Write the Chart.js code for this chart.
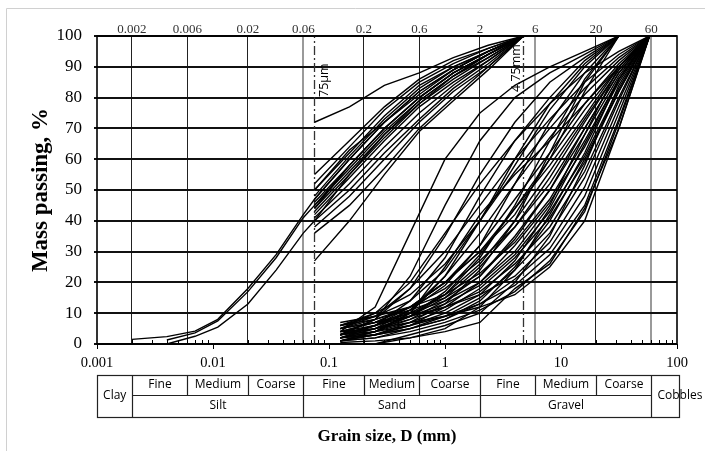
<!DOCTYPE html>
<html>
<head>
<meta charset="utf-8">
<script src="https://cdn.jsdelivr.net/npm/chart.js@4.4.1/dist/chart.umd.min.js"></script>
<style>
  html, body { margin: 0; padding: 0; background: #fff; }
  #wrap { position: relative; width: 705px; height: 451px; }
</style>
</head>
<body>
<div id="wrap"><canvas id="chart"></canvas></div>
<script>
// sieve / particle sizes in mm
const fineSieves = [0.075, 0.15, 0.3, 0.6, 1.18, 2.36, 4.75];
const hydroSizes = [0.002, 0.004, 0.007, 0.011, 0.02, 0.035, 0.06, 0.075, 0.15, 0.3, 0.6, 1.18, 2.36, 4.75];
const gravelSieves = [0.125, 0.25, 0.5, 1, 2, 4, 8, 16, 31.5, 58];

// mass passing (%) - fine grained soils (sieve from 75 µm)
const fineCurves = [
    [72, 77, 84, 88, 93, 97, 100],
    [55, 66, 77, 86, 92, 96, 100],
    [52, 64, 76, 85, 91, 96, 100],
    [50, 62, 74, 84, 90, 95, 100],
    [48, 61, 73, 83, 90, 95, 100],
    [47, 60, 72, 82, 89, 95, 100],
    [46, 58, 70, 80, 88, 94, 100],
    [45, 57, 69, 79, 87, 94, 100],
    [44, 56, 68, 78, 87, 93, 100],
    [43, 55, 67, 78, 86, 93, 100],
    [42, 54, 66, 77, 85, 92, 100],
    [41, 52, 64, 75, 84, 92, 100],
    [40, 50, 62, 73, 83, 91, 100],
    [38, 48, 60, 72, 82, 90, 100],
    [36, 45, 57, 70, 80, 90, 100],
    [27, 40, 55, 69, 79, 89, 100],
    [44, 58, 70, 80, 88, 94, 100],
    [50, 63, 72, 81, 89, 95, 100]
];

// mass passing (%) - curves with hydrometer part
const hydroCurves = [
    [1.5, 2.4, 4.2, 8, 18, 29, 42, 47, 60, 72, 82, 89, 95, 100],
    [null, 1.3, 3.6, 7.5, 17, 28, 41, 45, 58, 70, 80, 88, 94, 100],
    [null, 0, 2.5, 5.5, 13, 24, 36, 40, 55, 68, 79, 87, 94, 100]
];

// mass passing (%) - coarse grained soils, max size 31.5 mm
const gravelCurvesA = [
    [4, 12, 36, 60, 75, 84, 90, 95, 100],
    [3, 8, 22, 45, 66, 80, 88, 94, 100],
    [5, 9, 18, 35, 55, 72, 85, 93, 100],
    [2, 6, 14, 28, 48, 66, 80, 92, 100],
    [6, 10, 16, 26, 40, 58, 76, 90, 100],
    [1, 4, 10, 22, 40, 60, 78, 91, 100],
    [3, 6, 11, 19, 32, 52, 72, 88, 100],
    [2, 5, 9, 16, 28, 45, 66, 86, 100],
    [4, 7, 12, 20, 30, 42, 60, 82, 100],
    [1, 3, 7, 13, 24, 40, 62, 85, 100]
];

// mass passing (%) - coarse grained soils, max size ~60 mm
const gravelCurvesB = [
    [5, 10, 20, 36, 52, 66, 78, 88, 95, 100],
    [3, 8, 18, 30, 45, 60, 73, 85, 94, 100],
    [6, 9, 14, 24, 40, 56, 70, 83, 93, 100],
    [2, 5, 11, 22, 36, 52, 67, 81, 92, 100],
    [4, 7, 12, 20, 32, 47, 62, 78, 91, 100],
    [1, 4, 9, 17, 29, 44, 60, 76, 90, 100],
    [3, 6, 10, 16, 26, 40, 56, 73, 89, 100],
    [5, 8, 12, 18, 27, 38, 52, 70, 88, 100],
    [2, 4, 8, 14, 22, 35, 50, 68, 87, 100],
    [7, 9, 12, 16, 23, 33, 47, 66, 86, 100],
    [1, 3, 6, 12, 20, 32, 46, 64, 85, 100],
    [4, 6, 9, 13, 19, 29, 43, 61, 83, 100],
    [2, 4, 7, 11, 18, 28, 41, 59, 82, 100],
    [3, 5, 8, 12, 17, 26, 38, 56, 80, 100],
    [1, 2, 5, 9, 15, 24, 36, 54, 79, 100],
    [5, 7, 9, 12, 16, 22, 33, 51, 77, 100],
    [2, 3, 5, 8, 13, 21, 31, 48, 75, 100],
    [3, 4, 6, 9, 13, 19, 29, 45, 73, 100],
    [1, 2, 4, 7, 11, 17, 27, 43, 72, 100],
    [4, 5, 7, 9, 12, 16, 25, 40, 70, 100],
    [0.5, 1, 2, 4, 7, 18, 26, 44, 70, 100],
    [2, 3, 5, 8, 14, 25, 40, 60, 82, 100],
    [6, 8, 11, 15, 22, 34, 50, 70, 88, 100],
    [3, 5, 9, 15, 25, 38, 54, 72, 89, 100],
    [1, 3, 6, 10, 16, 27, 44, 65, 86, 100],
    [null, 0, 3, 6, 10, 20, 35, 58, 84, 100],
    [null, 0, 2, 5, 12, 24, 42, 62, 86, 100],
    [2, 4, 10, 25, 42, 55, 66, 78, 90, 100],
    [5, 7, 10, 14, 20, 30, 45, 68, 90, 100],
    [3, 6, 12, 20, 30, 44, 58, 74, 90, 100]
];

// axes
const decadeTicks = [0.001, 0.01, 0.1, 1, 10, 100];
const decadeLabels = ['0.001', '0.01', '0.1', '1', '10', '100'];
const classTicks = [0.002, 0.006, 0.02, 0.06, 0.2, 0.6, 2, 6, 20, 60];
const classLabels = ['0.002', '0.006', '0.02', '0.06', '0.2', '0.6', '2', '6', '20', '60'];
const grayLines = [0.06, 6, 60];

// reference sizes
const refSizes = [0.075, 4.75];
const refLabels = ['75µm', '4.75mm'];

// classification table
const mainFractions = ['Silt', 'Sand', 'Gravel'];
const subFractions = ['Fine', 'Medium', 'Coarse'];

const serif = "'Liberation Serif', 'Times New Roman', serif";
const sans = "'Open Sans', 'Noto Sans', sans-serif";

function toPoints(sizes, values) {
    const pts = [];
    for (let i = 0; i < values.length; i++) {
        if (values[i] !== null) pts.push({x: sizes[i], y: values[i]});
    }
    return pts;
}

function curve(points) {
    return {
        data: points,
        borderColor: '#000',
        borderWidth: 1.4,
        pointRadius: 0,
        tension: 0,
        fill: false
    };
}

const datasets = [];
fineCurves.forEach(c => datasets.push(curve(toPoints(fineSieves, c))));
hydroCurves.forEach(c => datasets.push(curve(toPoints(hydroSizes, c))));
gravelCurvesA.forEach(c => datasets.push(curve(toPoints(gravelSieves, c))));
gravelCurvesB.forEach(c => datasets.push(curve(toPoints(gravelSieves, c))));
refSizes.forEach(s => datasets.push({
    data: [{x: s, y: 0}, {x: s, y: 100}],
    borderColor: '#333',
    borderWidth: 1.3,
    borderDash: [9, 3, 2, 3],
    pointRadius: 0,
    fill: false
}));

const decorPlugin = {
    id: 'decor',
    beforeDraw(chart) {
        const ctx = chart.ctx;
        ctx.save();
        ctx.strokeStyle = '#d0d0d0';
        ctx.lineWidth = 1;
        ctx.beginPath();
        ctx.moveTo(6.5, 451);
        ctx.lineTo(6.5, 8.5);
        ctx.lineTo(705, 8.5);
        ctx.stroke();
        ctx.restore();
    },
    afterDatasetsDraw(chart) {
        const ctx = chart.ctx;
        const area = chart.chartArea;
        const x = chart.scales.x;
        ctx.save();

        // minor ticks on bottom axis
        ctx.strokeStyle = '#000';
        ctx.lineWidth = 1;
        ctx.beginPath();
        for (let k = -3; k <= 1; k++) {
            for (let m = 2; m <= 9; m++) {
                const px = Math.round(x.getPixelForValue(m * Math.pow(10, k))) + 0.5;
                ctx.moveTo(px, area.bottom);
                ctx.lineTo(px, area.bottom - 4);
            }
        }
        ctx.stroke();

        // frame
        ctx.lineWidth = 1.6;
        ctx.strokeRect(area.left, area.top, area.right - area.left, area.bottom - area.top);

        // labels of reference lines
        ctx.fillStyle = '#000';
        ctx.font = '12.5px ' + sans;
        ctx.textBaseline = 'alphabetic';
        ctx.textAlign = 'left';
        const p1 = x.getPixelForValue(refSizes[0]);
        ctx.save();
        ctx.translate(p1 + 13, 97);
        ctx.rotate(-Math.PI / 2);
        ctx.fillText(refLabels[0], 0, 0);
        ctx.restore();
        const p2 = x.getPixelForValue(refSizes[1]);
        ctx.save();
        ctx.translate(p2 - 3, 92);
        ctx.rotate(-Math.PI / 2);
        ctx.fillText(refLabels[1], 0, 0);
        ctx.restore();

        // classification table
        const top = 375, mid = 395, bot = 417;
        const left = area.left, right = area.right + 2;
        const b = classTicks.map(v => Math.round(x.getPixelForValue(v)) + 0.5);
        ctx.strokeStyle = '#222';
        ctx.lineWidth = 1.2;
        ctx.strokeRect(left + 0.5, top + 0.5, right - left, bot - top);
        ctx.beginPath();
        ctx.moveTo(b[0], mid + 0.5);
        ctx.lineTo(b[9], mid + 0.5);
        [0, 3, 6, 9].forEach(i => { ctx.moveTo(b[i], top); ctx.lineTo(b[i], bot); });
        [1, 2, 4, 5, 7, 8].forEach(i => { ctx.moveTo(b[i], top); ctx.lineTo(b[i], mid); });
        ctx.stroke();

        ctx.font = '12px ' + sans;
        ctx.textAlign = 'center';
        ctx.textBaseline = 'middle';
        for (let g = 0; g < 3; g++) {
            for (let s = 0; s < 3; s++) {
                const i = g * 3 + s;
                ctx.fillText(subFractions[s], (b[i] + b[i + 1]) / 2, 385);
            }
            ctx.fillText(mainFractions[g], (b[g * 3] + b[g * 3 + 3]) / 2, 406);
        }
        ctx.fillText('Clay', (left + b[0]) / 2, 396);
        ctx.textAlign = 'left';
        ctx.fillText('Cobbles', b[9] + 6, 396);
        ctx.restore();
    }
};

new Chart(document.getElementById('chart'), {
    type: 'line',
    data: { datasets: datasets },
    options: {
        responsive: true,
        maintainAspectRatio: false,
        animation: false,
        layout: { padding: { left: 0, right: 28, top: 0, bottom: 0 } },
        plugins: {
            legend: { display: false },
            tooltip: { enabled: false }
        },
        scales: {
            x: {
                type: 'logarithmic',
                position: 'bottom',
                min: 0.001,
                max: 100,
                afterBuildTicks: axis => { axis.ticks = decadeTicks.map(v => ({value: v})); },
                afterFit: scale => { scale.height = 107; },
                border: { display: false },
                grid: { drawOnChartArea: false, drawTicks: true, tickLength: 5, color: '#000' },
                ticks: {
                    autoSkip: false,
                    maxRotation: 0,
                    padding: 5,
                    color: '#000',
                    font: { family: serif, size: 14.5 },
                    callback: (v, i) => decadeLabels[i]
                },
                title: {
                    display: true,
                    text: 'Grain size, D (mm)',
                    color: '#000',
                    font: { family: serif, size: 17, weight: 'bold', lineHeight: 1.2 },
                    padding: { top: 0, bottom: 4 }
                }
            },
            x2: {
                type: 'logarithmic',
                position: 'top',
                min: 0.001,
                max: 100,
                afterBuildTicks: axis => { axis.ticks = classTicks.map(v => ({value: v})); },
                afterFit: scale => { scale.height = 36; },
                border: { display: false },
                grid: {
                    drawOnChartArea: true,
                    drawTicks: false,
                    color: c => grayLines.includes(c.tick && c.tick.value) ? '#9a9a9a' : '#222',
                    lineWidth: c => grayLines.includes(c.tick && c.tick.value) ? 2 : 1
                },
                ticks: {
                    autoSkip: false,
                    maxRotation: 0,
                    padding: 0,
                    color: '#333',
                    font: { family: serif, size: 13, lineHeight: 1 },
                    callback: (v, i) => classLabels[i]
                }
            },
            y: {
                min: 0,
                max: 100,
                afterFit: scale => { scale.width = 97; },
                border: { display: false },
                grid: { color: '#111', lineWidth: 2, drawTicks: true, tickLength: 3 },
                ticks: {
                    stepSize: 10,
                    padding: 12,
                    color: '#000',
                    font: { family: serif, size: 17 }
                },
                title: {
                    display: true,
                    text: 'Mass passing, %',
                    color: '#000',
                    font: { family: serif, size: 23, weight: 'bold', lineHeight: 1.2 },
                    padding: { top: 27, bottom: 0 }
                }
            }
        }
    },
    plugins: [decorPlugin]
});
</script>
</body>
</html>
